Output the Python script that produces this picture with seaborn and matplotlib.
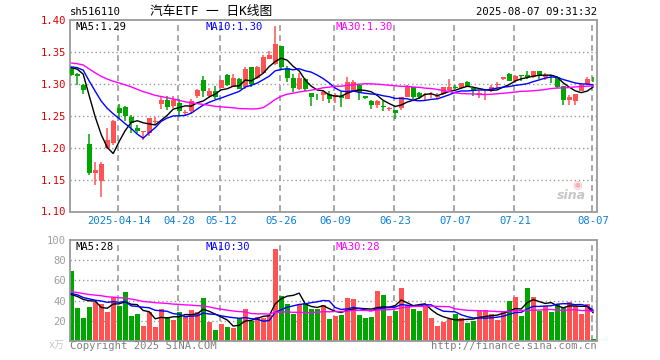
import numpy as np
import pandas as pd
import matplotlib
matplotlib.use("Agg")
import matplotlib.pyplot as plt
import seaborn as sns

# ---------------- data ----------------
opens = [1.325, 1.316, 1.298, 1.206, 1.161, 1.148, 1.199, 1.208, 1.2625, 1.2646,
         1.249, 1.231, 1.224, 1.223, 1.241, 1.268, 1.2755, 1.266, 1.270, 1.2545,
         1.257, 1.2813, 1.307, 1.2813, 1.2885, 1.2938, 1.3146, 1.2958, 1.3073, 1.2958,
         1.326, 1.3094, 1.318, 1.3396, 1.3313, 1.3594, 1.325, 1.3094, 1.2917, 1.3073,
         1.2865, 1.2802, 1.2823, 1.2844, 1.2792, 1.2813, 1.2771, 1.2896, 1.299, 1.2813,
         1.274, 1.2677, 1.2656, 1.2604, 1.2594, 1.2625, 1.2802, 1.2948, 1.2854, 1.2823,
         1.2833, 1.2802, 1.2844, 1.2906, 1.2948, 1.2938, 1.303, 1.2938, 1.2844, 1.2833,
         1.2896, 1.299, 1.3073, 1.3156, 1.3042, 1.3135, 1.3146, 1.3115, 1.3208, 1.3115,
         1.3135, 1.3104, 1.2969, 1.275, 1.2729, 1.2896, 1.300, 1.3078]
highs = [1.327, 1.317, 1.300, 1.221, 1.178, 1.178, 1.231, 1.244, 1.269, 1.265,
         1.252, 1.235, 1.227, 1.247, 1.249, 1.280, 1.281, 1.281, 1.276, 1.259,
         1.276, 1.2917, 1.312, 1.293, 1.297, 1.3063, 1.3156, 1.3156, 1.310, 1.326,
         1.326, 1.328, 1.346, 1.352, 1.391, 1.3604, 1.328, 1.3156, 1.3167, 1.3094,
         1.2865, 1.2844, 1.2896, 1.2885, 1.2854, 1.2875, 1.3104, 1.3063, 1.300, 1.2813,
         1.275, 1.275, 1.273, 1.2646, 1.2594, 1.2802, 1.2979, 1.2958, 1.2875, 1.2865,
         1.2875, 1.2854, 1.2958, 1.3073, 1.299, 1.301, 1.305, 1.2938, 1.2885, 1.2885,
         1.2979, 1.303, 1.3115, 1.3177, 1.3135, 1.3146, 1.3208, 1.3208, 1.3208, 1.3167,
         1.3146, 1.3104, 1.2969, 1.2833, 1.2844, 1.301, 1.3115, 1.3115]
lows = [1.312, 1.298, 1.285, 1.157, 1.142, 1.123, 1.198, 1.205, 1.246, 1.2417,
        1.223, 1.223, 1.2125, 1.218, 1.236, 1.261, 1.260, 1.262, 1.252, 1.250,
        1.255, 1.278, 1.279, 1.278, 1.277, 1.293, 1.297, 1.295, 1.2917, 1.2927,
        1.2958, 1.308, 1.317, 1.3385, 1.330, 1.3219, 1.3031, 1.2875, 1.2906, 1.2896,
        1.2656, 1.275, 1.2729, 1.2698, 1.2698, 1.2635, 1.2771, 1.2875, 1.275, 1.2771,
        1.2604, 1.2625, 1.2583, 1.2573, 1.2448, 1.2594, 1.2792, 1.276, 1.276, 1.275,
        1.278, 1.277, 1.2823, 1.2885, 1.2917, 1.2917, 1.2948, 1.2813, 1.2781, 1.275,
        1.2875, 1.2938, 1.3063, 1.3042, 1.3021, 1.3042, 1.3083, 1.3094, 1.3083, 1.3063,
        1.301, 1.2938, 1.2667, 1.2667, 1.2677, 1.2885, 1.2979, 1.3031]
closes = [1.314, 1.313, 1.291, 1.160, 1.1646, 1.175, 1.2125, 1.2427, 1.255, 1.250,
          1.2385, 1.226, 1.2265, 1.246, 1.242, 1.2755, 1.264, 1.2755, 1.258, 1.256,
          1.273, 1.2906, 1.289, 1.2896, 1.279, 1.3063, 1.299, 1.3094, 1.2927, 1.324,
          1.300, 1.326, 1.342, 1.3448, 1.3635, 1.3271, 1.3094, 1.2938, 1.3094, 1.2917,
          1.2792, 1.2792, 1.2875, 1.2771, 1.2823, 1.2781, 1.3031, 1.3031, 1.2875, 1.2781,
          1.2677, 1.274, 1.2646, 1.2625, 1.2552, 1.2792, 1.2969, 1.2792, 1.2792, 1.2844,
          1.2844, 1.2813, 1.2958, 1.2958, 1.2938, 1.301, 1.2958, 1.2885, 1.2854, 1.2844,
          1.2958, 1.300, 1.3104, 1.3052, 1.3125, 1.3125, 1.3104, 1.3208, 1.3125, 1.3135,
          1.3125, 1.2958, 1.275, 1.2792, 1.2844, 1.2979, 1.3083, 1.3073]
volumes = [69, 33, 23, 34, 39, 37, 29, 44, 35, 49,
           25, 27, 15, 29, 14, 32, 24, 21, 29, 25,
           31, 29, 43, 19, 11, 17, 14, 13, 23, 32,
           20, 24, 23, 26, 91, 45, 37, 27, 37, 38,
           32, 32, 36, 22, 25, 26, 43, 42, 26, 23,
           24, 50, 46, 25, 30, 52, 36, 32, 30, 34,
           23, 14.5, 18.5, 21.5, 27, 23, 17.5, 19.5, 30, 31,
           27, 20.5, 29, 40, 44, 25, 52, 44, 30, 35,
           29, 36.5, 34, 39, 35, 27, 37, 1.5]
# estimated closes / volumes of the 29 sessions before the window (only feed the moving averages)
prior_closes = [1.345, 1.35, 1.35, 1.345, 1.34, 1.34, 1.345, 1.34, 1.335, 1.335,
                1.34, 1.335, 1.33, 1.335, 1.33, 1.325, 1.33, 1.325, 1.32, 1.325,
                1.325, 1.33, 1.33, 1.325, 1.33, 1.325, 1.33, 1.33, 1.33]
prior_volumes = [60, 55, 62, 58, 54, 60, 56, 52, 58, 55, 60, 56,
                 40, 38, 42, 36, 40, 38, 40, 38,
                 45, 50, 48, 52, 45,
                 42, 38, 41, 40]
# cross-shaped candles whose colour is read directly
up_override = {41: False, 64: False, 75: False, 87: False, 14: True, 19: True}

tick_pos = [8, 18, 25, 35, 44, 54, 64, 74, 87]
tick_labels = ["2025-04-14", "04-28", "05-12", "05-26", "06-09", "06-23", "07-07", "07-21", "08-07"]
price_ticks = [1.10, 1.15, 1.20, 1.25, 1.30, 1.35, 1.40]
vol_ticks = [20, 40, 60, 80, 100]
price_ma_text = ["MA5:1.29", "MA10:1.30", "MA30:1.30"]
vol_ma_text = ["MA5:28", "MA10:30", "MA30:28"]
code_text = "sh516110"
title_text = "汽车ETF 一 日K线图"
time_text = "2025-08-07 09:31:32"

# ---------------- derived ----------------
n = len(closes)
idx = np.arange(n)
o = np.array(opens); h = np.array(highs); l = np.array(lows); c = np.array(closes)
up = c >= o
for k, v in up_override.items():
    up[k] = v
allc = pd.Series(prior_closes + closes)
allv = pd.Series(prior_volumes + volumes)
off = len(prior_closes)
pma = {w: allc.rolling(w).mean().values[off:] for w in (5, 10, 30)}
vma = {w: allv.rolling(w).mean().values[off:] for w in (5, 10, 30)}

RED = "#FF5252"
GREEN = "#00A600"
MA_COL = {5: "#000000", 10: "#0000FF", 30: "#FF00FF"}
FRAME = "#9a9a9a"
GRID = "#999999"
FONT = ["DejaVu Sans Mono", "Noto Sans CJK SC"]

sns.set_theme(style="white")
plt.rcParams["font.family"] = FONT
plt.rcParams["font.size"] = 7.3

fig = plt.figure(figsize=(6.6, 3.6), dpi=100)
W, H = 660.0, 360.0
def axrect(x0, y0, x1, y1):
    return [x0 / W, 1 - y1 / H, (x1 - x0) / W, (y1 - y0) / H]

axp = fig.add_axes(axrect(70, 20.3, 597, 211.5))
axv = fig.add_axes(axrect(70, 240, 597, 341))

xlim = ((70 - 71.2) / 6.0, (597 - 71.2) / 6.0)

def guides(ax, hvals, lo, hi):
    ax.hlines(hvals, xlim[0], xlim[1], colors=GRID, linewidths=1.0,
              linestyles=(0, (1.0, 2.0)), zorder=1.5)
    ax.vlines([p - 0.2 for p in tick_pos], lo, hi, colors=GRID, linewidths=1.2,
              linestyles=(0, (3.5, 2.5)), zorder=1.5)

# ---------- price panel ----------
ax = axp
guides(ax, [1.15, 1.20, 1.25, 1.30, 1.35], 1.10, 1.40)
cols = np.where(up, RED, GREEN)
ax.vlines(idx, l, h, colors=cols, lw=1.1, zorder=2)
body_b = np.minimum(o, c)
body_h = np.maximum(np.abs(c - o), 0.0012)
ax.bar(idx, body_h, bottom=body_b, width=0.78, color=cols, linewidth=0, zorder=3)
for w in (5, 10, 30):
    sns.lineplot(x=idx, y=pma[w], ax=ax, color=MA_COL[w], lw=1.0, zorder=4)
ax.set_xlim(*xlim)
ax.set_ylim(1.10, 1.40)
ax.set_yticks(price_ticks)
ax.set_yticklabels([f"{t:.2f}" for t in price_ticks], color="#E00000", fontsize=7.6)
ax.set_xticks(tick_pos)
ax.set_xticklabels(tick_labels, color="#0A7FD6", fontsize=7.6)
ax.tick_params(axis="both", length=0, pad=3)
ax.grid(False)
for s in ax.spines.values():
    s.set_color(FRAME); s.set_linewidth(1.3)
ax.set_xlabel(""); ax.set_ylabel("")

# ---------- volume panel ----------
ax = axv
guides(ax, [20, 40, 60, 80], 0, 100)
vdf = pd.DataFrame({"idx": idx, "vol": volumes, "dir": np.where(up, "up", "down")})
sns.barplot(data=vdf, x="idx", y="vol", hue="dir", palette={"up": RED, "down": GREEN},
            native_scale=True, width=0.8, dodge=False, legend=False, errorbar=None,
            saturation=1, linewidth=0, ax=ax, zorder=2)
for w in (5, 10, 30):
    sns.lineplot(x=idx, y=vma[w], ax=ax, color=MA_COL[w], lw=1.0, zorder=4)
ax.set_xlim(*xlim)
ax.set_ylim(0, 100)
ax.set_yticks(vol_ticks)
ax.set_yticklabels([str(t) for t in vol_ticks], color="#A0A0A0", fontsize=7.6)
ax.set_xticks([])
ax.tick_params(axis="both", length=0, pad=3)
ax.grid(False)
for s in ax.spines.values():
    s.set_color(FRAME); s.set_linewidth(1.3)
ax.set_xlabel(""); ax.set_ylabel("")

# ---------- texts ----------
def ftext(x, y, s, **kw):
    fig.text(x / W, 1 - y / H, s, va="center", **kw)

ftext(70, 12, code_text, ha="left", fontsize=7.6, color="#000000")
ftext(150, 12, title_text, ha="left", fontsize=9.2, color="#000000")
ftext(597, 12, time_text, ha="right", fontsize=7.6, color="#000000")
for s, x, w in zip(price_ma_text, (75, 205, 335), (5, 10, 30)):
    ftext(x, 26.5, s, ha="left", fontsize=7.6, color=MA_COL[w])
for s, x, w in zip(vol_ma_text, (75, 205, 335), (5, 10, 30)):
    ftext(x, 246.5, s, ha="left", fontsize=7.6, color=MA_COL[w])
ftext(49, 345, "x万", ha="left", fontsize=7.2, color="#C8C8C8")
ftext(70, 346, "Copyright 2025 SINA.COM", ha="left", fontsize=7.6, color="#808080")
ftext(597, 346, "http://finance.sina.com.cn", ha="right", fontsize=7.6, color="#808080")
# sina watermark
ftext(571, 196, "sina", ha="center", fontsize=9, color="#C0C0C0", fontweight="bold",
      style="italic", family=["DejaVu Sans"], alpha=0.9)
fig.text(577 / W, 1 - 185 / H, "◉", ha="center", va="center", fontsize=8,
         color="#F4A0A0", alpha=0.8, family=["DejaVu Sans"])

fig.savefig("out.png", dpi=100)
